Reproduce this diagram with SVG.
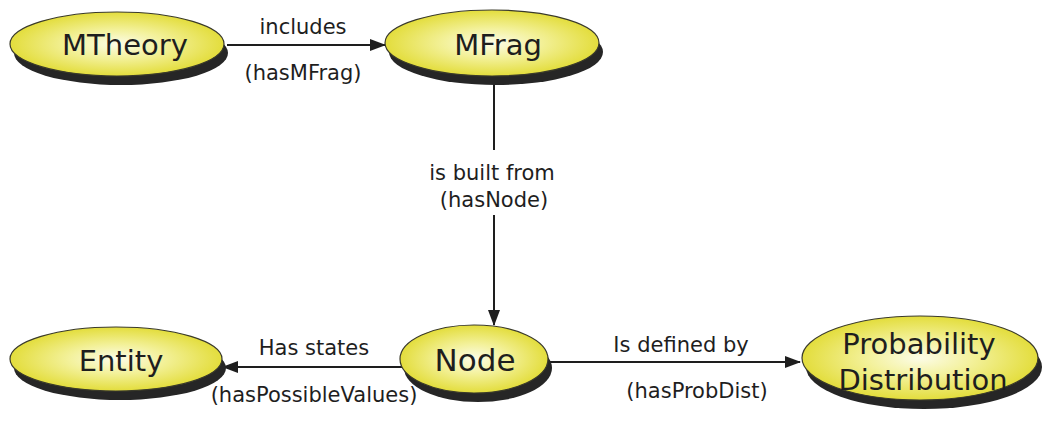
<svg xmlns="http://www.w3.org/2000/svg" width="1042" height="423" viewBox="0 0 1042 423">
  <style>
    .shadow { fill: #262626; }
    .body { fill: url(#glow); stroke: #3a3a2a; stroke-width: 1.2; }
    .title { font-family: "DejaVu Sans", "Noto Sans", sans-serif; font-size: 29px; fill: #1e1e1e; text-anchor: middle; }
    .label { font-family: "DejaVu Sans", "Noto Sans", sans-serif; font-size: 21px; fill: #1e1e1e; text-anchor: middle; }
    .edge { stroke: #1e1e1e; stroke-width: 2; fill: none; }
  </style>
  <defs>
    <radialGradient id="glow" cx="0.5" cy="0.5" r="0.5">
      <stop offset="0" stop-color="#fcfce8"/>
      <stop offset="0.45" stop-color="#f3f19a"/>
      <stop offset="1" stop-color="#e3dd3c"/>
    </radialGradient>
    <marker id="head" viewBox="0 0 16 12" refX="15" refY="6" markerWidth="16" markerHeight="12" markerUnits="userSpaceOnUse" orient="auto">
      <path d="M0,0 L16,6 L0,12 z" fill="#1e1e1e"/>
    </marker>
  </defs>

  <rect width="1042" height="423" fill="#ffffff"/>

  <!-- connectors and their labels -->
  <g id="connectors">
    <line class="edge" x1="227" y1="45" x2="385" y2="45" marker-end="url(#head)"/>
    <line class="edge" x1="494" y1="80" x2="494" y2="150"/>
    <line class="edge" x1="494" y1="215" x2="494" y2="325" marker-end="url(#head)"/>
    <line class="edge" x1="402" y1="367" x2="223" y2="367" marker-end="url(#head)"/>
    <line class="edge" x1="548" y1="362" x2="800" y2="362" marker-end="url(#head)"/>

    <text class="label" x="303" y="34">includes</text>
    <text class="label" x="303" y="80">(hasMFrag)</text>
    <text class="label" x="492" y="180">is built from</text>
    <text class="label" x="494" y="207">(hasNode)</text>
    <text class="label" x="314" y="355">Has states</text>
    <text class="label" x="314" y="402">(hasPossibleValues)</text>
    <text class="label" x="681" y="352">Is defined by</text>
    <text class="label" x="697" y="398">(hasProbDist)</text>
  </g>

  <!-- nodes -->
  <g id="mtheory">
    <ellipse class="shadow" cx="121" cy="53" rx="107" ry="32"/>
    <ellipse class="body" cx="117" cy="44" rx="107" ry="32"/>
    <text class="title" x="125" y="55">MTheory</text>
  </g>
  <g id="mfrag">
    <ellipse class="shadow" cx="496" cy="52" rx="107" ry="33"/>
    <ellipse class="body" cx="492" cy="43" rx="107" ry="33"/>
    <text class="title" x="498" y="55">MFrag</text>
  </g>
  <g id="node">
    <ellipse class="shadow" cx="478" cy="368" rx="74" ry="34"/>
    <ellipse class="body" cx="474" cy="359" rx="74" ry="34"/>
    <text class="title" x="475" y="371" style="font-size:31px">Node</text>
  </g>
  <g id="entity">
    <ellipse class="shadow" cx="120" cy="368" rx="106" ry="32"/>
    <ellipse class="body" cx="116" cy="359" rx="106" ry="32"/>
    <text class="title" x="121" y="371">Entity</text>
  </g>
  <g id="probdist">
    <ellipse class="shadow" cx="924" cy="367" rx="118" ry="42"/>
    <ellipse class="body" cx="920" cy="358" rx="118" ry="42"/>
    <text class="title" x="919" y="354">Probability</text>
    <text class="title" x="923" y="390">Distribution</text>
  </g>
</svg>
